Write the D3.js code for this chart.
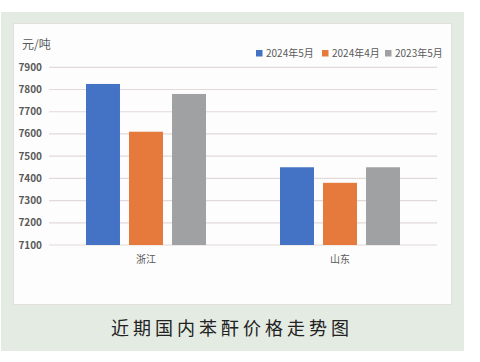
<!DOCTYPE html>
<html>
<head>
<meta charset="utf-8">
<script src="https://cdn.jsdelivr.net/npm/d3@7"></script>
<style>
  body { margin: 0; background: #fff; }
  svg text { font-family: "Noto Sans CJK SC", "Noto Sans", sans-serif; }
</style>
</head>
<body>
<div id="elements"></div>
<script>
// chart data
var categories = ["浙江", "山东"];
var seriesNames = ["2024年5月", "2024年4月", "2023年5月"];
var values2024May = [7825, 7450];
var values2024Apr = [7610, 7380];
var values2023May = [7780, 7450];
var yTicks = [7100, 7200, 7300, 7400, 7500, 7600, 7700, 7800, 7900];
var colors = ["#4472c4", "#e67a3c", "#a0a1a3"];

var width = 480, height = 362;
var svg = d3.select("#elements").append("svg")
    .attr("width", width)
    .attr("height", height);

// outer green panel
svg.append("rect")
    .attr("x", 1).attr("y", 12)
    .attr("width", 463).attr("height", 339)
    .attr("fill", "#e4ebe3");

// inner white panel
svg.append("rect")
    .attr("x", 13.5).attr("y", 23.5)
    .attr("width", 438).attr("height", 281)
    .attr("fill", "#fdfdfd")
    .attr("stroke", "#e6dede");

var x = d3.scaleBand()
    .domain(categories)
    .range([49, 437]);

var xs = d3.scaleBand()
    .domain(seriesNames)
    .range([0, x.bandwidth()])
    .paddingInner(0.21)
    .paddingOuter(0.86);

var y = d3.scaleLinear()
    .domain([7100, 7900])
    .range([245, 67.3]);

// gridlines
svg.append("g")
    .selectAll("line")
    .data(yTicks)
    .join("line")
    .attr("x1", 49)
    .attr("x2", 437)
    .attr("y1", function (d) { return y(d); })
    .attr("y2", function (d) { return y(d); })
    .attr("stroke", "#e3d9d9")
    .attr("stroke-width", 1.2);

// y labels
svg.append("g")
    .selectAll("text")
    .data(yTicks)
    .join("text")
    .attr("x", 42)
    .attr("y", function (d) { return y(d) + 3.5; })
    .attr("text-anchor", "end")
    .attr("font-size", 10)
    .attr("font-weight", "bold")
    .attr("fill", "#595959")
    .text(function (d) { return d; });

// bars
var seriesValues = [values2024May, values2024Apr, values2023May];
var groups = svg.append("g")
    .selectAll("g")
    .data(seriesNames)
    .join("g")
    .attr("fill", function (d, i) { return colors[i]; });

groups.selectAll("rect")
    .data(function (d, i) {
        return categories.map(function (c, j) {
            return { cat: c, name: d, value: seriesValues[i][j] };
        });
    })
    .join("rect")
    .attr("x", function (d) { return x(d.cat) + xs(d.name); })
    .attr("width", xs.bandwidth())
    .attr("y", function (d) { return y(d.value); })
    .attr("height", function (d) { return y(7100) - y(d.value); });

// category labels
svg.append("g")
    .selectAll("text")
    .data(categories)
    .join("text")
    .attr("x", function (d) { return x(d) + x.bandwidth() / 2; })
    .attr("y", 263)
    .attr("text-anchor", "middle")
    .attr("font-size", 10)
    .attr("fill", "#595959")
    .text(function (d) { return d; });

// unit
svg.append("text")
    .attr("x", 22)
    .attr("y", 49)
    .attr("font-size", 12)
    .attr("fill", "#595959")
    .text("元/吨");

// legend
var legendX = [256, 322, 385];
var legend = svg.append("g")
    .selectAll("g")
    .data(seriesNames)
    .join("g")
    .attr("transform", function (d, i) { return "translate(" + legendX[i] + ",50)"; });

legend.append("rect")
    .attr("width", 6.5)
    .attr("height", 6.5)
    .attr("fill", function (d, i) { return colors[i]; });

legend.append("text")
    .attr("x", 10)
    .attr("y", 7)
    .attr("font-size", 10)
    .attr("fill", "#595959")
    .text(function (d) { return d; });

// caption
svg.append("text")
    .attr("x", 232)
    .attr("y", 335)
    .attr("text-anchor", "middle")
    .attr("font-size", 18)
    .attr("letter-spacing", 4)
    .attr("fill", "#222")
    .text("近期国内苯酐价格走势图");
</script>
</body>
</html>
